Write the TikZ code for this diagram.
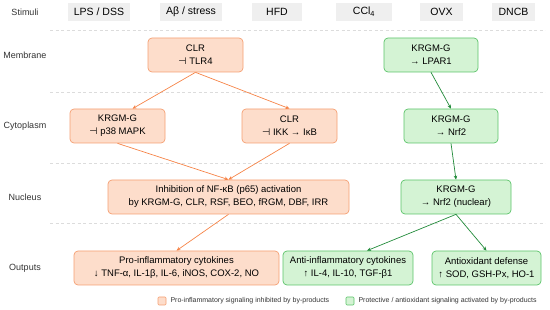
\documentclass[tikz,border=0pt]{standalone}
\usepackage{fontspec}
\setmainfont{Liberation Sans}
\newfontfamily\symfont{DejaVu Sans}
\usepackage{xcolor}
\usepackage{tikz}
\usetikzlibrary{arrows.meta, positioning, calc}
\definecolor{stimgray}{RGB}{239, 239, 239}
\definecolor{lanegray}{RGB}{51, 51, 51}
\definecolor{sepgray}{RGB}{220, 220, 220}
\definecolor{orangefill}{RGB}{253, 221, 203}
\definecolor{orangedraw}{RGB}{245, 160, 115}
\definecolor{orangearrow}{RGB}{246, 132, 72}
\definecolor{greenfill}{RGB}{212, 243, 212}
\definecolor{greendraw}{RGB}{92, 196, 106}
\definecolor{greenarrow}{RGB}{34, 139, 58}
\newcommand{\inh}{{\symfont\char"22A3}}
\tikzstyle{redline} = [draw, -{Stealth[length=4pt, width=3.5pt]}, line width=0.7pt, orangearrow]
\tikzstyle{greenline} = [draw, -{Stealth[length=4pt, width=3.5pt]}, line width=0.7pt, greenarrow]
\tikzstyle{sepline} = [draw, sepgray, line width=0.6pt, dash pattern=on 3pt off 2.5pt]
\tikzset{
  stimbox/.style={fill=stimgray, minimum height=18pt, inner sep=0pt, font=\fontsize{10.5}{12}\selectfont},
  lane/.style={text=lanegray, font=\fontsize{9}{11}\selectfont},
  redbox/.style={draw=orangedraw, fill=orangefill, rounded corners=4pt, line width=0.7pt, align=center, minimum height=34pt, inner sep=0pt, font=\fontsize{9.5}{13}\selectfont},
  greenbox/.style={redbox, draw=greendraw, fill=greenfill},
  legendtext/.style={anchor=west, inner sep=0pt, text=lanegray, font=\fontsize{7}{8}\selectfont}
}
\begin{document}
\begin{tikzpicture}[x=1pt, y=-1pt]
    \useasboundingbox (0,0) rectangle (550,310);

    % lanes
    \node (lstim) [lane] at (25,12) {Stimuli};
    \node (lmem) [lane] at (25,55) {Membrane};
    \node (lcyto) [lane] at (25,126) {Cytoplasm};
    \node (lnuc) [lane] at (25,197) {Nucleus};
    \node (lout) [lane] at (25,268) {Outputs};
    \foreach \y in {30,92,163,223}
        \draw [sepline] (50,\y) -- (545,\y);

    % stimuli
    \node (lps) [stimbox, minimum width=62pt] at (99,12) {LPS / DSS};
    \node (abeta) [stimbox, minimum width=62pt] at (191,12) {Aβ / stress};
    \node (hfd) [stimbox, minimum width=50pt] at (277,12) {HFD};
    \node (ccl) [stimbox, minimum width=56pt] at (364,12) {CCl\textsubscript{4}};
    \node (ovx) [stimbox, minimum width=43pt] at (441.5,12) {OVX};
    \node (dncb) [stimbox, minimum width=43pt] at (513.5,12) {DNCB};

    % pro-inflammatory branch
    \node (tlr) [redbox, minimum width=95pt] at (195.5,55) {CLR\\\inh\ TLR4};
    \node (p38) [redbox, minimum width=95pt] at (117.5,126) {KRGM-G\\\inh\ p38 MAPK};
    \node (ikk) [redbox, minimum width=95pt] at (289.5,126) {CLR\\\inh\ IKK → IκB};
    \node (nfkb) [redbox, minimum width=241pt] at (228.5,197) {Inhibition of NF-κB (p65) activation\\by KRGM-G, CLR, RSF, BEO, fRGM, DBF, IRR};
    \node (pro) [redbox, minimum width=205pt] at (176.5,268) {Pro-inflammatory cytokines\\↓ TNF-α, IL-1β, IL-6, iNOS, COX-2, NO};

    % protective branch
    \node (lpar) [greenbox, minimum width=94pt] at (431,55) {KRGM-G\\→ LPAR1};
    \node (nrf) [greenbox, minimum width=94pt] at (451,126) {KRGM-G\\→ Nrf2};
    \node (nuc) [greenbox, minimum width=110pt] at (456,197) {KRGM-G\\→ Nrf2 (nuclear)};
    \node (anti) [greenbox, minimum width=130pt] at (348,268) {Anti-inflammatory cytokines\\↑ IL-4, IL-10, TGF-β1};
    \node (antiox) [greenbox, minimum width=109pt] at (486.5,268) {Antioxidant defense\\↑ SOD, GSH-Px, HO-1};

    \draw [redline] (tlr.south) -- ($(p38.north)+(15,0)$);
    \draw [redline] (tlr.south) -- (ikk.north);
    \draw [redline] (p38.south) -- (nfkb.north);
    \draw [redline] (ikk.south) -- (nfkb.north);
    \draw [redline] (nfkb.south) -- (pro.north);

    \draw [greenline] (lpar.south) -- (nrf.north);
    \draw [greenline] (nrf.south) -- (nuc.north);
    \draw [greenline] (nuc.south) -- ($(anti.north)+(19,0)$);
    \draw [greenline] (nuc.south) -- (antiox.north);

    % legend
    \node (keyred) [draw=orangedraw, fill=orangefill, rounded corners=1pt, line width=0.6pt, minimum size=8pt, inner sep=0pt] at (162,301) {};
    \node (keyredtext) [legendtext, right=4pt of keyred] {Pro-inflammatory signaling inhibited by by-products};
    \node (keygreen) [draw=greendraw, fill=greenfill, rounded corners=1pt, line width=0.6pt, minimum size=8pt, inner sep=0pt] at (350,301) {};
    \node (keygreentext) [legendtext, right=4pt of keygreen] {Protective / antioxidant signaling activated by by-products};
\end{tikzpicture}
\end{document}
